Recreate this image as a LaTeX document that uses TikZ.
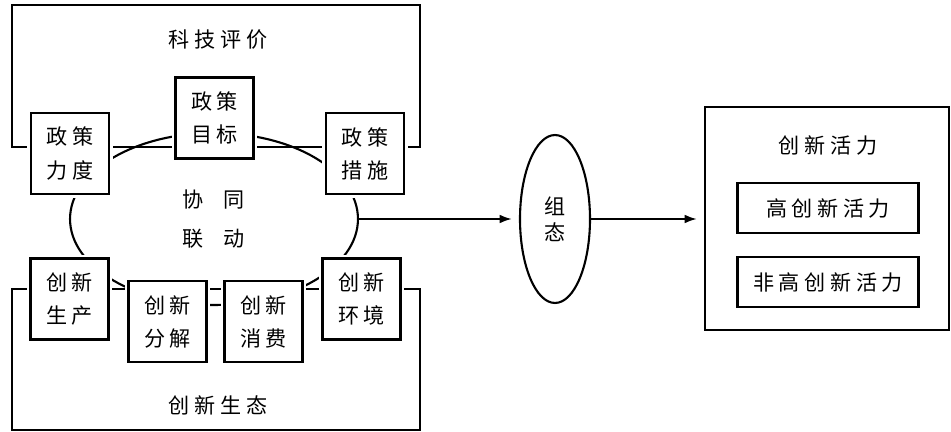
\documentclass[tikz,border=0pt]{standalone}
\usepackage{fontspec}
\newfontfamily\cjk{Noto Sans CJK SC}[LetterSpace=22]
\usetikzlibrary{shapes.geometric,arrows.meta,positioning}

\begin{document}
\begin{tikzpicture}[
    x=0.02cm, y=-0.02cm,
    line width=1.2pt,
    every node/.style={font=\cjk\fontsize{12pt}{18.8pt}\selectfont},
    box/.style={rectangle, draw, fill=white, preaction={draw=white, line width=4pt}, minimum width=1.56cm, minimum height=1.62cm, align=center, inner sep=0pt},
    wide/.style={rectangle, draw, minimum width=3.62cm, minimum height=1cm, inner sep=0pt},
    arrow/.style={-{Latex[length=7pt, width=5pt]}, shorten >=4pt}
]
    \useasboundingbox (0,0) rectangle (951,432);

    % two frames
    \draw (12,5) rectangle (420,147);
    \draw (12,289) rectangle (420,430);
    \node (kjpj) at (218,40) {科技评价};
    \node (cxst) at (218,405) {创新生态};

    % ring
    \node[ellipse, draw, minimum width=5.76cm, minimum height=3.44cm, align=center] (xtld) at (214,219) {协\hspace{0.4cm}同\\[3pt]联\hspace{0.4cm}动};

    \node[box] (ld) at (70,153.5) {政策\\力度};
    \node[box] (mb) at (214.5,118) {政策\\目标};
    \node[box] (cs) at (365,153.5) {政策\\措施};
    \node[box] (sc) at (69.5,299) {创新\\生产};
    \node[box] (fj) at (167.5,321.5) {创新\\分解};
    \node[box] (xf) at (263.5,321.5) {创新\\消费};
    \node[box] (hj) at (361.5,299) {创新\\环境};

    % configuration
    \node[ellipse, draw, minimum width=1.4cm, minimum height=3.36cm, inner sep=0pt, align=center, font=\cjk\fontsize{12pt}{14.7pt}\selectfont] (zt) at (555,219) {组\\态};

    % outcome
    \node[rectangle, draw, minimum width=4.88cm, minimum height=4.46cm] (hl) at (827,218.5) {};
    \node (hlt) at (828,145) {创新活力};
    \node[wide] (gc) at (828,208) {高创新活力};
    \node[wide, below=0.44cm of gc] (fg) {非高创新活力};

    \draw[arrow] (xtld.east) -- (zt.west);
    \draw[arrow] (zt.east) -- (zt.east -| hl.west);
\end{tikzpicture}
\end{document}
